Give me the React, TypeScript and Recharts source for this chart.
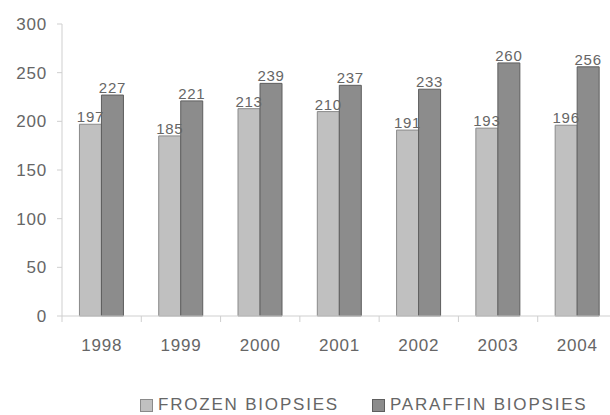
import { BarChart, Bar, XAxis, YAxis, LabelList } from 'recharts';

const years = ['1998', '1999', '2000', '2001', '2002', '2003', '2004'];
const frozen = [197, 185, 213, 210, 191, 193, 196];
const paraffin = [227, 221, 239, 237, 233, 260, 256];
const yTicks = [0, 50, 100, 150, 200, 250, 300];

const data = years.map((year, i) => ({
  year,
  frozen: frozen[i],
  paraffin: paraffin[i],
}));

const FONT = '"Liberation Sans", Arial, sans-serif';
const AXIS = '#cfcfcf';
const TICK_SIZE = 6;
const TICK_MARGIN = 17;
const tickStyle = { fontSize: 17, fill: '#666', fontFamily: FONT, letterSpacing: 0.8 };
const labelStyle = { fontSize: 15, fill: '#666', fontFamily: FONT, letterSpacing: 0.7 };

const legendItems = [
  { name: 'FROZEN BIOPSIES', fill: '#c0c0c0', stroke: '#8a8a8a' },
  { name: 'PARAFFIN BIOPSIES', fill: '#8c8c8c', stroke: '#5e5e5e' },
];

// category label plus a tick mark on the left boundary of each band
function YearTick(props: any) {
  const { x, y, payload, index } = props;
  const half = payload.offset || 0;
  const axisY = y - TICK_SIZE - TICK_MARGIN;
  const last = index === years.length - 1;
  return (
    <g>
      <line x1={x - half} x2={x - half} y1={axisY} y2={axisY + TICK_SIZE} stroke={AXIS} />
      {last && <line x1={x + half} x2={x + half} y1={axisY} y2={axisY + TICK_SIZE} stroke={AXIS} />}
      <text x={x} y={y} dy="0.71em" textAnchor="middle" style={tickStyle}>{payload.value}</text>
    </g>
  );
}

export default function App() {
  return (
    <div style={{ position: 'fixed', left: 0, top: 0, width: 610, height: 415, overflow: 'hidden', background: '#fff' }}>
      <BarChart
        width={620}
        height={395}
        data={data}
        margin={{ top: 24, right: 3, left: 0, bottom: 0 }}
        barCategoryGap="22%"
        barGap={0}
      >
        <XAxis
          dataKey="year"
          tick={<YearTick />}
          tickLine={false}
          tickSize={TICK_SIZE}
          axisLine={{ stroke: AXIS }}
          tickMargin={TICK_MARGIN}
          height={79}
        />
        <YAxis
          domain={[0, 300]}
          ticks={yTicks}
          tick={tickStyle}
          tickLine={{ stroke: AXIS }}
          tickSize={5}
          tickMargin={10}
          axisLine={{ stroke: AXIS }}
          width={62}
        />
        <Bar dataKey="frozen" name="FROZEN BIOPSIES" fill="#c0c0c0" stroke="#8a8a8a" strokeWidth={1} isAnimationActive={false}>
          <LabelList dataKey="frozen" position="top" offset={2} style={labelStyle} />
        </Bar>
        <Bar dataKey="paraffin" name="PARAFFIN BIOPSIES" fill="#8c8c8c" stroke="#5e5e5e" strokeWidth={1} isAnimationActive={false}>
          <LabelList dataKey="paraffin" position="top" offset={2} style={labelStyle} />
        </Bar>
      </BarChart>
      <div style={{ position: 'absolute', top: 395, left: 0, display: 'flex', paddingLeft: 140, fontFamily: FONT, fontSize: 17, lineHeight: '20px', color: '#666', letterSpacing: 1.8 }}>
        {legendItems.map((it, i) => (
          <div key={it.name} style={{ display: 'flex', alignItems: 'center', marginRight: i === 0 ? 33 : 0 }}>
            <span style={{ display: 'inline-block', width: 11, height: 11, background: it.fill, border: `1px solid ${it.stroke}`, marginRight: 5 }} />
            <span>{it.name}</span>
          </div>
        ))}
      </div>
    </div>
  );
}
